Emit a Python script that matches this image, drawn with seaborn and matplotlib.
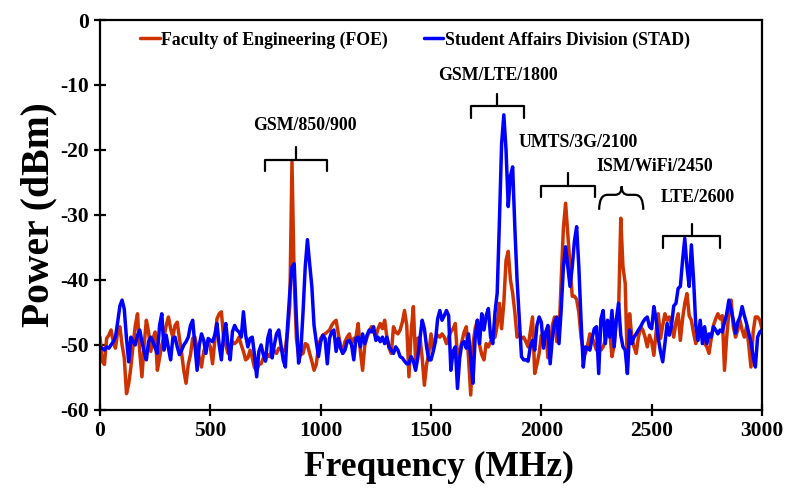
import numpy as np
import pandas as pd
import seaborn as sns
import matplotlib
matplotlib.use("Agg")
import matplotlib.pyplot as plt
from matplotlib.path import Path
from matplotlib.patches import PathPatch

# frequency grid (MHz), one sample every 10 MHz
freq_mhz = np.arange(0, 3001, 10)

# Faculty of Engineering (FOE), dBm
foe_dbm = [
    -48.8, -52.5, -53.0, -49.0, -48.5, -47.7, -49.5, -50.5, -48.0, -47.2,
    -50.0, -52.0, -57.5, -56.0, -53.4, -50.0, -47.0, -45.2, -51.0, -54.9,
    -50.0, -46.2, -48.0, -51.0, -49.0, -48.0, -53.9, -52.0, -50.0, -48.8,
    -47.0, -45.7, -47.5, -48.8, -47.0, -46.5, -49.0, -51.3, -54.0, -55.9,
    -53.0, -51.5, -49.0, -48.8, -50.5, -52.0, -53.4, -51.0, -50.0, -49.5,
    -50.3, -52.9, -49.5, -46.0, -45.2, -44.9, -48.8, -50.0, -51.3, -51.0,
    -49.5, -49.8, -49.5, -48.8, -50.0, -51.0, -52.3, -52.0, -50.8, -52.0,
    -53.5, -53.9, -53.0, -52.9, -52.0, -52.3, -51.5, -51.8, -50.3, -51.0,
    -51.3, -50.5, -50.8, -51.0, -50.5, -48.0, -44.0, -21.8, -40.0, -49.0,
    -51.8, -51.5, -51.3, -49.8, -50.0, -51.3, -52.5, -53.9, -53.0, -50.3,
    -49.0, -48.5, -48.3, -48.0, -47.7, -47.0, -46.5, -46.2, -48.3, -50.0,
    -51.3, -49.5, -48.8, -48.3, -49.8, -49.0, -48.8, -46.7, -51.0, -53.9,
    -50.0, -48.8, -48.0, -47.2, -48.0, -48.8, -47.5, -46.7, -47.5, -46.2,
    -48.8, -50.5, -51.3, -47.2, -48.0, -48.3, -47.7, -46.5, -44.7, -47.0,
    -54.9, -48.0, -44.1, -52.3, -49.0, -48.8, -52.0, -56.2, -53.0, -51.3,
    -48.3, -50.8, -49.0, -48.5, -48.8, -48.3, -48.8, -49.8, -48.8, -48.0,
    -47.5, -46.7, -52.0, -51.0, -49.5, -48.0, -47.2, -52.0, -57.7, -50.0,
    -47.5, -46.2, -50.0, -51.5, -52.3, -49.8, -50.3, -49.5, -49.0, -48.8,
    -47.0, -43.6, -47.5, -43.5, -37.0, -35.6, -40.0, -42.0, -45.0, -48.8,
    -48.3, -49.0, -48.8, -49.5, -50.3, -48.0, -45.7, -54.4, -53.0, -51.3,
    -48.5, -50.0, -48.0, -52.0, -50.0, -47.0, -45.7, -49.5, -48.5, -40.0,
    -32.0, -28.2, -33.0, -38.0, -42.5, -42.5, -43.0, -45.0, -48.8, -50.8,
    -51.3, -50.0, -48.3, -48.8, -49.8, -50.8, -50.3, -50.8, -50.3, -49.3,
    -47.2, -48.0, -51.8, -50.0, -46.0, -45.0, -30.5, -38.0, -40.5, -53.4,
    -45.2, -48.8, -50.3, -51.3, -48.8, -47.2, -47.7, -48.8, -50.3, -48.5,
    -49.5, -51.6, -48.0, -45.2, -49.0, -47.0, -45.2, -46.2, -45.7, -47.0,
    -48.8, -46.5, -45.2, -49.3, -46.0, -43.6, -42.1, -45.5, -46.2, -48.2,
    -49.8, -48.8, -47.2, -47.7, -49.8, -50.3, -51.3, -49.0, -47.0, -46.0,
    -45.2, -46.0, -45.5, -53.9, -48.8, -45.0, -43.1, -47.2, -48.8, -47.7,
    -46.2, -47.7, -48.8, -47.2, -50.0, -53.4, -48.0, -45.7, -45.7, -46.2,
    -47.5,
]

# Student Affairs Division (STAD), dBm
stad_dbm = [
    -50.3, -50.5, -50.8, -50.3, -50.5, -50.0, -49.5, -48.8, -46.5, -44.0,
    -43.1, -44.5, -49.0, -52.6, -48.8, -49.5, -50.0, -48.5, -47.7, -49.5,
    -51.0, -52.3, -49.5, -48.8, -49.5, -50.5, -51.3, -47.0, -45.2, -50.8,
    -48.5, -50.5, -52.3, -49.0, -48.8, -50.3, -51.5, -50.8, -50.0, -49.5,
    -48.8, -47.0, -46.2, -50.0, -53.9, -50.0, -48.3, -49.3, -51.3, -49.0,
    -49.3, -49.5, -48.5, -46.7, -50.0, -52.3, -48.5, -46.7, -50.0, -52.3,
    -48.0, -47.0, -47.7, -48.0, -48.8, -44.9, -48.5, -50.3, -49.0, -48.8,
    -51.5, -54.9, -51.0, -50.0, -51.5, -52.5, -49.0, -47.7, -52.0, -50.0,
    -48.3, -47.7, -50.0, -52.3, -53.4, -47.0, -42.0, -38.0, -37.5, -46.0,
    -52.8, -51.0, -45.0, -38.0, -33.8, -37.5, -41.0, -47.0, -49.5, -51.8,
    -49.5, -48.5, -49.0, -52.9, -49.0, -48.0, -47.7, -51.0, -49.0, -50.5,
    -51.3, -50.8, -49.5, -49.3, -50.0, -52.3, -49.0, -48.8, -50.3, -48.3,
    -49.8, -48.5, -47.7, -48.0, -47.2, -49.3, -48.8, -49.5, -48.8, -49.8,
    -48.8, -50.3, -50.8, -51.3, -50.3, -50.8, -51.8, -52.0, -52.5, -52.9,
    -52.9, -51.8, -52.5, -53.9, -52.0, -49.0, -46.2, -47.5, -50.3, -52.3,
    -52.3, -51.0, -49.5, -46.0, -44.7, -46.2, -45.5, -44.7, -45.5, -53.9,
    -51.0, -50.3, -56.7, -52.0, -49.8, -49.5, -50.5, -48.3, -52.0, -55.9,
    -49.0, -46.2, -49.8, -45.2, -47.7, -45.5, -44.4, -48.8, -49.8, -45.0,
    -42.0, -31.0, -19.0, -14.6, -20.0, -28.7, -24.0, -22.6, -32.0, -40.0,
    -46.0, -51.8, -52.3, -52.3, -52.5, -50.3, -49.3, -50.8, -47.0, -45.7,
    -46.5, -50.5, -48.0, -47.0, -52.9, -49.0, -46.5, -45.7, -49.8, -44.6,
    -38.0, -34.9, -38.0, -41.0, -38.0, -34.0, -31.8, -38.0, -46.2, -53.4,
    -50.3, -50.5, -50.8, -49.0, -47.5, -47.2, -54.4, -46.0, -44.7, -49.8,
    -46.2, -48.8, -44.7, -50.3, -46.0, -43.6, -48.5, -50.3, -50.8, -54.4,
    -47.7, -49.8, -48.8, -48.3, -47.7, -47.2, -46.5, -46.0, -45.7, -47.2,
    -47.5, -44.1, -46.0, -49.0, -51.0, -52.6, -49.8, -46.7, -48.5, -47.0,
    -44.0, -43.6, -41.3, -41.0, -37.0, -33.6, -38.0, -41.0, -34.6, -40.0,
    -47.0, -49.3, -46.2, -49.8, -47.2, -49.8, -48.3, -48.8, -47.2, -47.7,
    -48.3, -47.7, -48.0, -46.5, -45.2, -43.1, -44.5, -46.2, -48.2, -46.5,
    -45.7, -44.1, -45.5, -46.7, -48.2, -49.5, -51.8, -53.4, -48.8, -48.0,
    -47.7,
]

series_names = ["Faculty of Engineering (FOE)", "Student Affairs Division (STAD)"]
series_colors = ["#CC3300", "#0000FF"]

# band labels: text, text x, text y, bracket left, right, centre, bar level
band_labels = ["GSM/850/900", "GSM/LTE/1800", "UMTS/3G/2100", "ISM/WiFi/2450", "LTE/2600"]
label_xy = [(929, -16.3), (1805, -8.6), (2167, -18.8), (2515, -22.6), (2710, -27.3)]
bracket_spans = [(748, 1029, 886, -21.5), (1680, 1921, 1800, -13.3),
                 (1998, 2243, 2119, -25.5), (2262, 2462, 2364, -26.9),
                 (2552, 2809, 2681, -33.3)]

df = pd.concat([
    pd.DataFrame({"Frequency": freq_mhz, "Power": foe_dbm, "Site": series_names[0]}),
    pd.DataFrame({"Frequency": freq_mhz, "Power": stad_dbm, "Site": series_names[1]}),
])

sns.set_style("ticks")
plt.rcParams["font.family"] = ["Liberation Serif", "DejaVu Serif"]
plt.rcParams["font.weight"] = "bold"
plt.rcParams["axes.labelweight"] = "bold"
plt.rcParams["axes.unicode_minus"] = False
plt.rcParams["text.color"] = "black"
plt.rcParams["axes.labelcolor"] = "black"
plt.rcParams["xtick.color"] = "black"
plt.rcParams["ytick.color"] = "black"

fig, ax = plt.subplots(figsize=(7.85, 4.88), dpi=100)
fig.subplots_adjust(left=0.1274, right=0.9707, top=0.959, bottom=0.160)

sns.lineplot(data=df, x="Frequency", y="Power", hue="Site",
             palette=dict(zip(series_names, series_colors)),
             linewidth=2.5, estimator=None, ax=ax)

# brackets over the bands
for i, (x0, x1, xc, yb) in enumerate(bracket_spans):
    if band_labels[i].startswith("ISM"):
        verts = [(x0, yb - 2.3), (x0, yb), (x0 + 38, yb), (xc - 29, yb),
                 (xc, yb), (xc, yb + 1.3), (xc, yb), (xc + 29, yb),
                 (x1 - 38, yb), (x1, yb), (x1, yb - 2.3)]
        codes = [Path.MOVETO, Path.CURVE3, Path.CURVE3, Path.LINETO,
                 Path.CURVE3, Path.CURVE3, Path.CURVE3, Path.CURVE3,
                 Path.LINETO, Path.CURVE3, Path.CURVE3]
        ax.add_patch(PathPatch(Path(verts, codes), fill=False, lw=1.6, color="black"))
    else:
        ax.plot([x0, x0, x1, x1], [yb - 1.8, yb, yb, yb - 1.8], color="black", lw=1.6)
        ax.plot([xc, xc], [yb, yb + 1.9], color="black", lw=1.6)
    ax.text(label_xy[i][0], label_xy[i][1], band_labels[i], ha="center", va="center",
            fontsize=12.8, fontweight="bold")

ax.set_xlim(0, 3000)
ax.set_ylim(-60, 0)
ax.set_xticks(range(0, 3001, 500))
ax.set_yticks(range(-60, 1, 10))
ax.tick_params(direction="inout", length=9, width=1.6, labelsize=15.5)
for side in ax.spines.values():
    side.set_linewidth(1.6)
    side.set_color("black")

ax.set_xlabel("Frequency (MHz)", fontsize=25.5, labelpad=7)
ax.set_ylabel("Power (dBm)", fontsize=28.5, labelpad=2)
ax.xaxis.label.set_x(0.512)

ax.legend(loc="center", bbox_to_anchor=(0.476, 0.949), ncol=2, frameon=False,
          handlelength=1.1, handletextpad=0.1, columnspacing=2.0,
          prop={"family": "Liberation Serif", "weight": "bold", "size": 12.8})

plt.savefig("out.png", dpi=100)
